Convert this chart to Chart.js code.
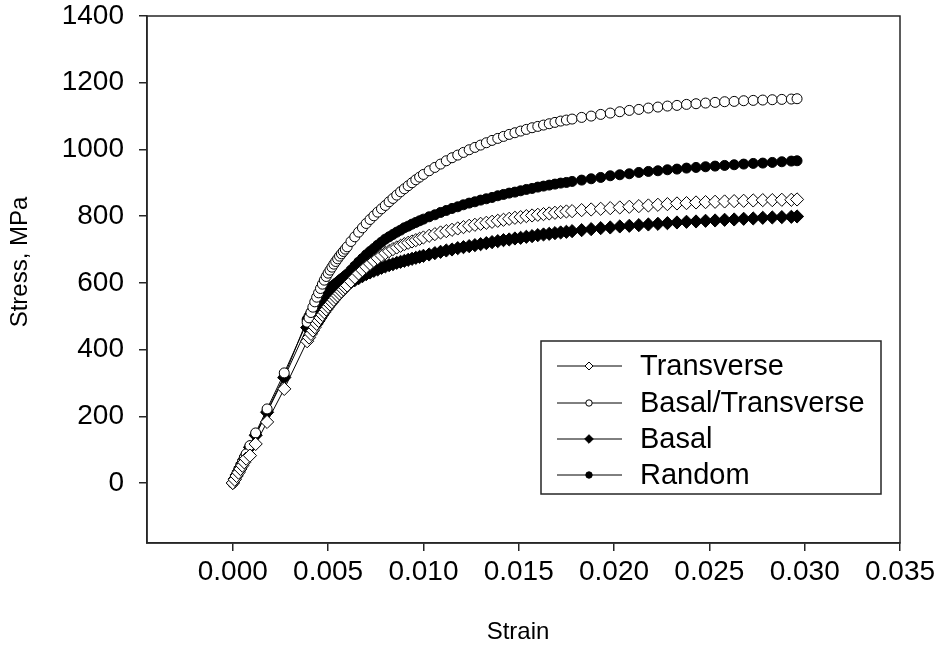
<!DOCTYPE html>
<html>
<head>
<meta charset="utf-8">
<script src="https://cdn.jsdelivr.net/npm/chart.js@4.4.0/dist/chart.umd.min.js"></script>
<style>
  html, body { margin: 0; padding: 0; background: #fff; }
  #wrap { width: 941px; height: 649px; }
</style>
</head>
<body>
<div id="wrap"><canvas id="stressStrain" width="941" height="649"></canvas></div>
<script>
// --- Data: strain (shared) and stress in MPa for each orientation ---
const strain = [
    0, 0.0001, 0.0002, 0.0003, 0.0004, 0.0005, 0.0006, 0.0007, 0.0009, 0.0012, 0.0018, 0.0027, 0.0039,
    0.0040, 0.0041, 0.0042, 0.0043, 0.0044, 0.0045, 0.0046, 0.0047, 0.0048, 0.0049, 0.0050, 0.0051, 0.0052, 0.0053, 0.0054, 0.0055, 0.0056, 0.0057, 0.0058, 0.0059, 0.0060,
    0.0062, 0.0064, 0.0066, 0.0068, 0.0070, 0.0072, 0.0074, 0.0076, 0.0078, 0.0080, 0.0082, 0.0084, 0.0086, 0.0088, 0.0090, 0.0092, 0.0094, 0.0096, 0.0098, 0.0100,
    0.0103, 0.0106, 0.0109, 0.0112, 0.0115, 0.0118, 0.0121, 0.0124, 0.0127, 0.0130, 0.0133, 0.0136, 0.0139, 0.0142, 0.0145, 0.0148, 0.0151, 0.0154, 0.0157, 0.0160, 0.0163, 0.0166, 0.0169, 0.0172, 0.0175, 0.0178,
    0.0183, 0.0188, 0.0193, 0.0198, 0.0203, 0.0208, 0.0213, 0.0218, 0.0223, 0.0228, 0.0233, 0.0238, 0.0243, 0.0248, 0.0253, 0.0258, 0.0263, 0.0268, 0.0273, 0.0278, 0.0283, 0.0288, 0.0293, 0.0296
];

const transverse = [
    0, 10, 21, 31, 42, 52, 62, 73, 82, 117, 183, 282, 425,
    436, 447, 457, 467, 477, 486, 495, 504, 512, 520, 528, 535, 542, 549, 556, 562, 568, 574, 580, 586, 592,
    604, 616, 628, 638, 648, 657, 666, 674, 682, 689, 695, 701, 706, 711, 716, 720, 724, 728, 732, 736,
    741, 746, 751, 755, 759, 763, 767, 771, 774, 777, 780, 783, 786, 789, 792, 795, 797, 800, 802, 804, 806, 808, 810, 812, 814, 815,
    818, 820, 822, 824, 826, 828, 830, 832, 834, 836, 838, 839, 841, 842, 843, 844, 845, 846, 847, 848, 848, 849, 849, 850
];

const basalTransverse = [
    0, 12, 25, 37, 50, 62, 75, 87, 112, 150, 222, 330, 482,
    495, 511, 527, 543, 557, 570, 583, 596, 608, 619, 629, 638, 647, 656, 664, 672, 680, 687, 694, 701, 708,
    724, 738, 752, 765, 778, 790, 801, 812, 822, 832, 843, 853, 863, 873, 882, 891, 900, 909, 917, 925,
    936, 946, 956, 966, 975, 983, 991, 999, 1006, 1013, 1020, 1027, 1033, 1039, 1045, 1050, 1055, 1060, 1065, 1069, 1073, 1077, 1081, 1085, 1088, 1091,
    1096, 1100, 1105, 1109, 1113, 1117, 1120, 1124, 1127, 1130, 1132, 1135, 1137, 1139, 1141, 1143, 1144, 1146, 1147, 1148, 1149, 1150, 1151, 1152
];

const basal = [
    0, 12, 24, 35, 47, 59, 71, 83, 107, 143, 212, 316, 466,
    478, 489, 500, 510, 519, 528, 536, 543, 550, 556, 561, 566, 570, 574, 578, 581, 584, 587, 590, 593, 596,
    602, 608, 614, 620, 626, 631, 636, 640, 645, 649, 653, 656, 660, 663, 666, 669, 672, 675, 678, 681,
    685, 689, 693, 697, 700, 704, 707, 710, 713, 716, 719, 722, 725, 728, 730, 733, 735, 738, 740, 743, 745, 747, 749, 751, 753, 755,
    758, 761, 764, 766, 769, 771, 773, 775, 777, 779, 781, 783, 784, 786, 787, 789, 790, 792, 793, 795, 796, 797, 798, 799
];

const random = [
    0, 12, 24, 36, 48, 60, 72, 84, 110, 146, 216, 320, 490,
    500, 510, 519, 528, 537, 546, 553, 559, 566, 572, 578, 583, 588, 593, 598, 602, 607, 612, 616, 621, 626,
    638, 650, 662, 673, 684, 694, 703, 713, 722, 731, 738, 745, 752, 758, 765, 770, 776, 781, 786, 791,
    798, 804, 811, 817, 823, 828, 834, 839, 843, 848, 852, 856, 861, 865, 869, 872, 876, 880, 883, 887, 890, 893, 896, 899, 901, 904,
    908, 912, 916, 921, 924, 927, 931, 934, 936, 939, 941, 944, 946, 948, 950, 952, 954, 956, 958, 959, 961, 963, 965, 966
];

const seriesNames = ['Transverse', 'Basal/Transverse', 'Basal', 'Random'];
const xTicks = [0, 0.005, 0.010, 0.015, 0.020, 0.025, 0.030, 0.035];
const yTicks = [0, 200, 400, 600, 800, 1000, 1200, 1400];

// --- Styling ---
const axisColor = '#262626';
const fontFamily = "'Liberation Sans', Arial, sans-serif";
const labelFont = { family: fontFamily, size: 28, lineHeight: 1 };

// marker style per series: [pointStyle, filled, plot radius, legend radius]
const markers = [
    ['rectRot', false, 6.6, 4],
    ['circle', false, 5, 3.2],
    ['rectRot', true, 6.6, 4.3],
    ['circle', true, 5, 3.2]
];

const toPoints = (ys) => strain.map((x, i) => ({ x: x, y: ys[i] }));
const stressSets = [transverse, basalTransverse, basal, random];

const datasets = stressSets.map((ys, i) => ({
    label: seriesNames[i],
    data: toPoints(ys),
    showLine: true,
    borderColor: '#000',
    borderWidth: 1,
    pointStyle: markers[i][0],
    pointRadius: markers[i][2],
    pointBorderWidth: 1,
    pointBorderColor: '#000',
    pointBackgroundColor: markers[i][1] ? '#000' : '#fff'
}));

// frame around the plot area plus the two axis titles
const framePlugin = {
    id: 'frame',
    beforeDatasetsDraw(chart) {
        const { ctx, chartArea: a } = chart;
        ctx.save();
        ctx.strokeStyle = axisColor;
        ctx.lineWidth = 1.5;
        ctx.strokeRect(a.left, a.top, a.right - a.left, a.bottom - a.top);
        ctx.fillStyle = '#000';
        ctx.font = `24px ${fontFamily}`;
        ctx.textAlign = 'center';
        ctx.textBaseline = 'middle';
        ctx.fillText('Strain', 518, 632);
        ctx.translate(20, 262);
        ctx.rotate(-Math.PI / 2);
        ctx.fillText('Stress, MPa', 0, 0);
        ctx.restore();
    }
};

// boxed legend in the lower right of the plot
const legendBox = { left: 541, top: 341, right: 881, bottom: 494, rowY: [366, 403, 439, 475] };
const legendPlugin = {
    id: 'boxLegend',
    afterDraw(chart) {
        const ctx = chart.ctx;
        ctx.save();
        ctx.fillStyle = '#fff';
        ctx.fillRect(legendBox.left, legendBox.top, legendBox.right - legendBox.left, legendBox.bottom - legendBox.top);
        ctx.strokeStyle = axisColor;
        ctx.lineWidth = 1.5;
        ctx.strokeRect(legendBox.left, legendBox.top, legendBox.right - legendBox.left, legendBox.bottom - legendBox.top);
        seriesNames.forEach((name, i) => {
            const y = legendBox.rowY[i];
            const cx = 589;
            ctx.strokeStyle = '#000';
            ctx.lineWidth = 1;
            ctx.beginPath();
            ctx.moveTo(557, y);
            ctx.lineTo(622, y);
            ctx.stroke();
            const r = markers[i][3];
            ctx.beginPath();
            if (markers[i][0] === 'circle') {
                ctx.arc(cx, y, r, 0, Math.PI * 2);
            } else {
                ctx.moveTo(cx, y - r);
                ctx.lineTo(cx + r, y);
                ctx.lineTo(cx, y + r);
                ctx.lineTo(cx - r, y);
                ctx.closePath();
            }
            ctx.fillStyle = markers[i][1] ? '#000' : '#fff';
            ctx.fill();
            ctx.stroke();
            ctx.fillStyle = '#000';
            ctx.font = `29px ${fontFamily}`;
            ctx.textBaseline = 'middle';
            ctx.textAlign = 'left';
            ctx.fillText(name, 640, y + 1);
        });
        ctx.restore();
    }
};

// keep tick-label overflow from pushing the plot area around
const noLabelPadding = (s) => {
    s.paddingTop = 0;
    s.paddingBottom = 0;
    s.paddingLeft = 0;
    s.paddingRight = 0;
};

new Chart(document.getElementById('stressStrain').getContext('2d'), {
    type: 'scatter',
    data: { datasets: datasets },
    plugins: [framePlugin, legendPlugin],
    options: {
        responsive: false,
        animation: false,
        layout: { autoPadding: false, padding: { left: 0, top: 16, right: 41, bottom: 0 } },
        plugins: { legend: { display: false }, tooltip: { enabled: false } },
        scales: {
            x: {
                type: 'linear',
                min: -0.0045,
                max: 0.035,
                afterBuildTicks: (s) => { s.ticks = xTicks.map(v => ({ value: v })); },
                afterFit: (s) => { s.height = 106; noLabelPadding(s); },
                ticks: { callback: (v) => v.toFixed(3), font: labelFont, color: '#000', padding: 7, maxRotation: 0, autoSkip: false },
                grid: { drawOnChartArea: false, drawTicks: true, tickLength: 8, color: axisColor, lineWidth: 1.5 },
                border: { display: true, color: axisColor, width: 1.5 }
            },
            y: {
                type: 'linear',
                min: -180,
                max: 1400,
                afterBuildTicks: (s) => { s.ticks = yTicks.map(v => ({ value: v })); },
                afterFit: (s) => { s.width = 147; noLabelPadding(s); },
                ticks: { callback: (v) => String(v), font: labelFont, color: '#000', padding: 15, autoSkip: false },
                grid: { drawOnChartArea: false, drawTicks: true, tickLength: 8, color: axisColor, lineWidth: 1.5 },
                border: { display: true, color: axisColor, width: 1.5 }
            }
        }
    }
});
</script>
</body>
</html>
